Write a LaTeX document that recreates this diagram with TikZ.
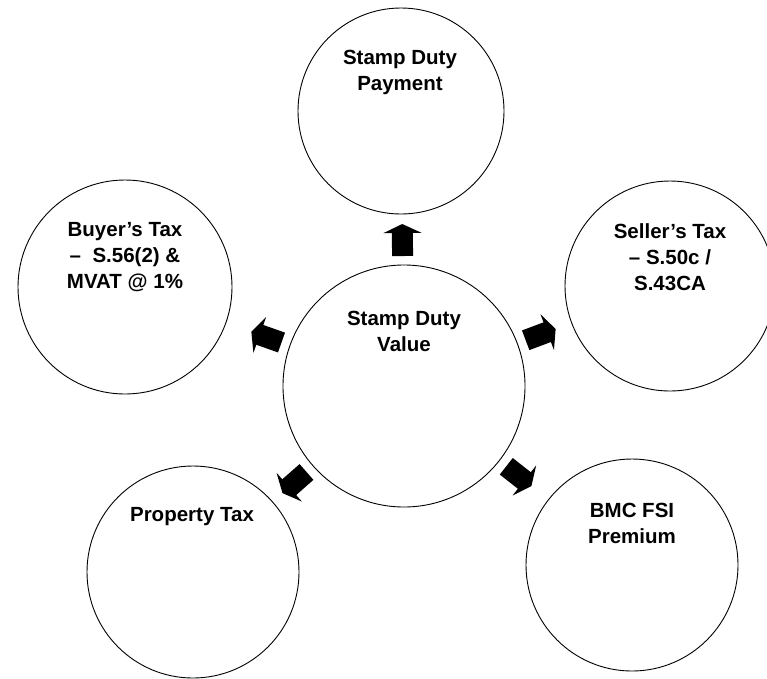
\documentclass[tikz,border=0pt]{standalone}
\usepackage{fontspec}
\setmainfont{Liberation Sans}
\usetikzlibrary{arrows.meta,calc}
\begin{document}
\begin{tikzpicture}[x=1pt,y=-1pt,
  bubble/.style={draw=black,line width=0.9pt,circle,inner sep=0pt,fill=white},
  lbl/.style={align=center,inner sep=0pt,font=\bfseries\fontsize{20.5}{26}\selectfont},
  blockarrow/.style={draw=black,line width=21pt,line cap=butt,
    -{Triangle[length=9pt 0 0,width=38pt 0 0]}}]
\useasboundingbox[fill=white] (0,0) rectangle (767,678);
% circles
\node[bubble,minimum size=242pt] (c) at (404,386) {};
\node[bubble,minimum size=206pt] (top) at (401,111) {};
\node[bubble,minimum size=214pt] (buy) at (125,287) {};
\node[bubble,minimum size=210pt] (sell) at (670,286) {};
\node[bubble,minimum size=212pt] (prop) at (193,572) {};
\node[bubble,minimum size=212pt] (bmc) at (632,565) {};
% labels
\node[lbl] (tc) at (404,331) {Stamp Duty\\Value};
\node[lbl] (tt) at (400,72) {Stamp Duty\\Payment};
\node[lbl] (tb) at (125,257) {Buyer’s Tax\\–~ S.56(2) \&\\MVAT @ 1\%};
\node[lbl] (ts) at (670,257) {Seller’s Tax\\– S.50c /\\S.43CA};
\node[lbl] (tp) at (192,517) {Property Tax};
\node[lbl] (tm) at (632,523) {BMC FSI\\Premium};
% block arrows
\foreach \t in {top,buy,sell,prop,bmc}{
  \draw[blockarrow] ($(c.center)!130pt!(\t.center)$) -- ($(c.center)!162pt!(\t.center)$);
}
\end{tikzpicture}
\end{document}
